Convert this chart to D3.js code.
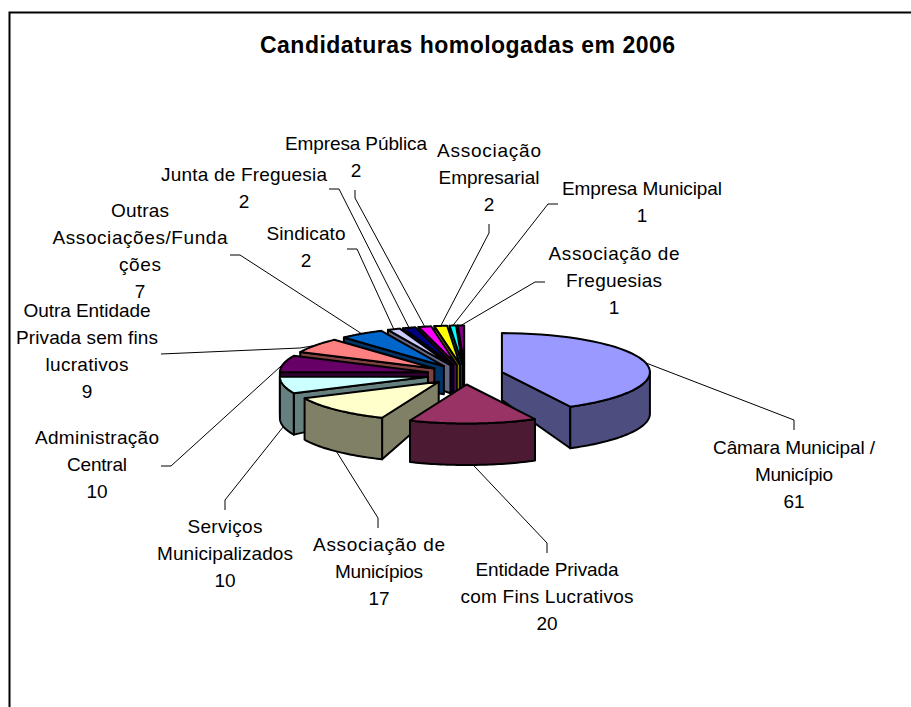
<!DOCTYPE html>
<html><head><meta charset="utf-8">
<script src="https://cdn.jsdelivr.net/npm/d3@7"></script>
<style>html,body{margin:0;background:#fff;overflow:hidden}svg{display:block}text{font-family:"Liberation Sans",Arial,sans-serif;fill:#000}</style>
</head><body>
<svg id="c" width="911" height="707"></svg>
<script>
const title = "Candidaturas homologadas em 2006";
const categories = [
  ["Câmara Municipal /","Município"],
  ["Entidade Privada","com Fins Lucrativos"],
  ["Associação de","Municípios"],
  ["Serviços","Municipalizados"],
  ["Administração","Central"],
  ["Outra Entidade","Privada sem fins","lucrativos"],
  ["Outras","Associações/Funda","ções"],
  ["Sindicato"],
  ["Junta de Freguesia"],
  ["Empresa Pública"],
  ["Associação","Empresarial"],
  ["Empresa Municipal"],
  ["Associação de","Freguesias"]
];
const values = [61,20,17,10,10,9,7,2,2,2,2,1,1];
const topColors  = ["#9999FF","#993366","#FFFFCC","#CCFFFF","#660066","#FF8080","#0066CC","#CCCCFF","#000080","#FF00FF","#FFFF00","#00FFFF","#800080"];
const sideColors = ["#4D4D80","#4D1A33","#808066","#668080","#330033","#804040","#003366","#666680","#000040","#800080","#808000","#008080","#400040"];
// label layout: centre x, first baseline, fitted line widths, leader elbow and leader end
const labelX     = [794,547,379,225,97,87,140,306,244,356,489,642,614];
const labelY     = [454,576,551,533,444,317,217,240,181,150,157,195,260];
const lineWidths = [[162,78],[143,173],[132,88],[75,136],[124,60],[127,142,83],[58,175,42],[79],[166],[142],[104,101],[160],[131,96]];
const elbows     = [[794,420],[547,543],[378,518],[225,500],[171,466],[300,348],[240,255],[357,249],[339,189],[355,198],[489,233],[548,204],[535,282]];
const leaderEnds = [[794,430],[547,553],[378,528],[225,510],[161,466],[161,354],[230,255],[347,249],[329,189],[355,190],[489,224],[558,204],[545,282]];
const drawOrder  = [12,11,10,9,8,7,6,5,4,3,2,0,1];

const cx = 465, cy = 374.5, rx = 148, squash = 39/148, explode = 38;
const depthScale = d3.scaleLinear().domain([0,1]).range([28,41.5]);
const svg = d3.select("#c");

// frame: top and left edges, the rest runs past the photographed area
svg.append("path").attr("d","M9.5,720V12.5H930").attr("fill","none").attr("stroke","#000").attr("stroke-width",2);

svg.append("text").attr("x",467.5).attr("y",53).attr("text-anchor","middle")
   .attr("font-weight","bold").attr("font-size",23)
   .attr("textLength",415).attr("lengthAdjust","spacing").text(title);

const pie = d3.pie().sort(null).value(d=>d).startAngle(0).endAngle(2*Math.PI);
const arcs = pie(values);
const line = d3.line();

function geom(a){
  const mid = (a.startAngle+a.endAngle)/2;
  const ox = cx + explode*Math.sin(mid), oy = cy - explode*Math.cos(mid)*squash;
  const pt = (ang,r=1)=>[ox + r*rx*Math.sin(ang), oy - r*rx*squash*Math.cos(ang)];
  const low = (ang,r=1)=>{const p=pt(ang,r); return [p[0],p[1]+depthScale(r)];};
  return {mid,ox,oy,pt,low};
}
const samples = (a0,a1)=>d3.range(0,41).map(i=>a0+(a1-a0)*i/40);

const g = svg.append("g").attr("stroke","#000").attr("stroke-width",2).attr("stroke-linejoin","round");
drawOrder.forEach(i=>{
  const a = arcs[i], s = geom(a), a0=a.startAngle, a1=a.endAngle;
  const wall = ang => line([s.pt(ang,0),s.pt(ang),s.low(ang),s.low(ang,0)])+"Z";
  if(Math.sin(a0)<0) g.append("path").attr("d",wall(a0)).attr("fill",sideColors[i]);
  if(Math.sin(a1)>0) g.append("path").attr("d",wall(a1)).attr("fill",sideColors[i]);
  const w0 = Math.max(a0,Math.PI/2), w1 = Math.min(a1,3*Math.PI/2);
  if(w1>w0){
    const ss = samples(w0,w1);
    g.append("path").attr("d",line(ss.map(t=>s.pt(t)).concat(ss.slice().reverse().map(t=>s.low(t))))+"Z").attr("fill",sideColors[i]);
  }
  g.append("path").attr("d",line([s.pt(0,0)].concat(samples(a0,a1).map(t=>s.pt(t))))+"Z").attr("fill",topColors[i]);
});

// leaders and labels
const lg = svg.append("g").attr("fill","none").attr("stroke","#000").attr("stroke-width",1);
const tg = svg.append("g").attr("font-size",19).attr("text-anchor","middle");
arcs.forEach((a,i)=>{
  const s = geom(a);
  const lower = Math.cos(s.mid) < -0.05;
  const start = lower ? s.low(s.mid) : s.pt(s.mid);
  lg.append("path").attr("d",line([start,elbows[i],leaderEnds[i]]));
  const step = 27;
  categories[i].forEach((t,k)=>{
    tg.append("text").attr("x",labelX[i]).attr("y",labelY[i]+k*step)
      .attr("textLength",lineWidths[i][k]).attr("lengthAdjust","spacing").text(t);
  });
  tg.append("text").attr("x",labelX[i]).attr("y",labelY[i]+categories[i].length*step).text(values[i]);
});
</script>
</body></html>
